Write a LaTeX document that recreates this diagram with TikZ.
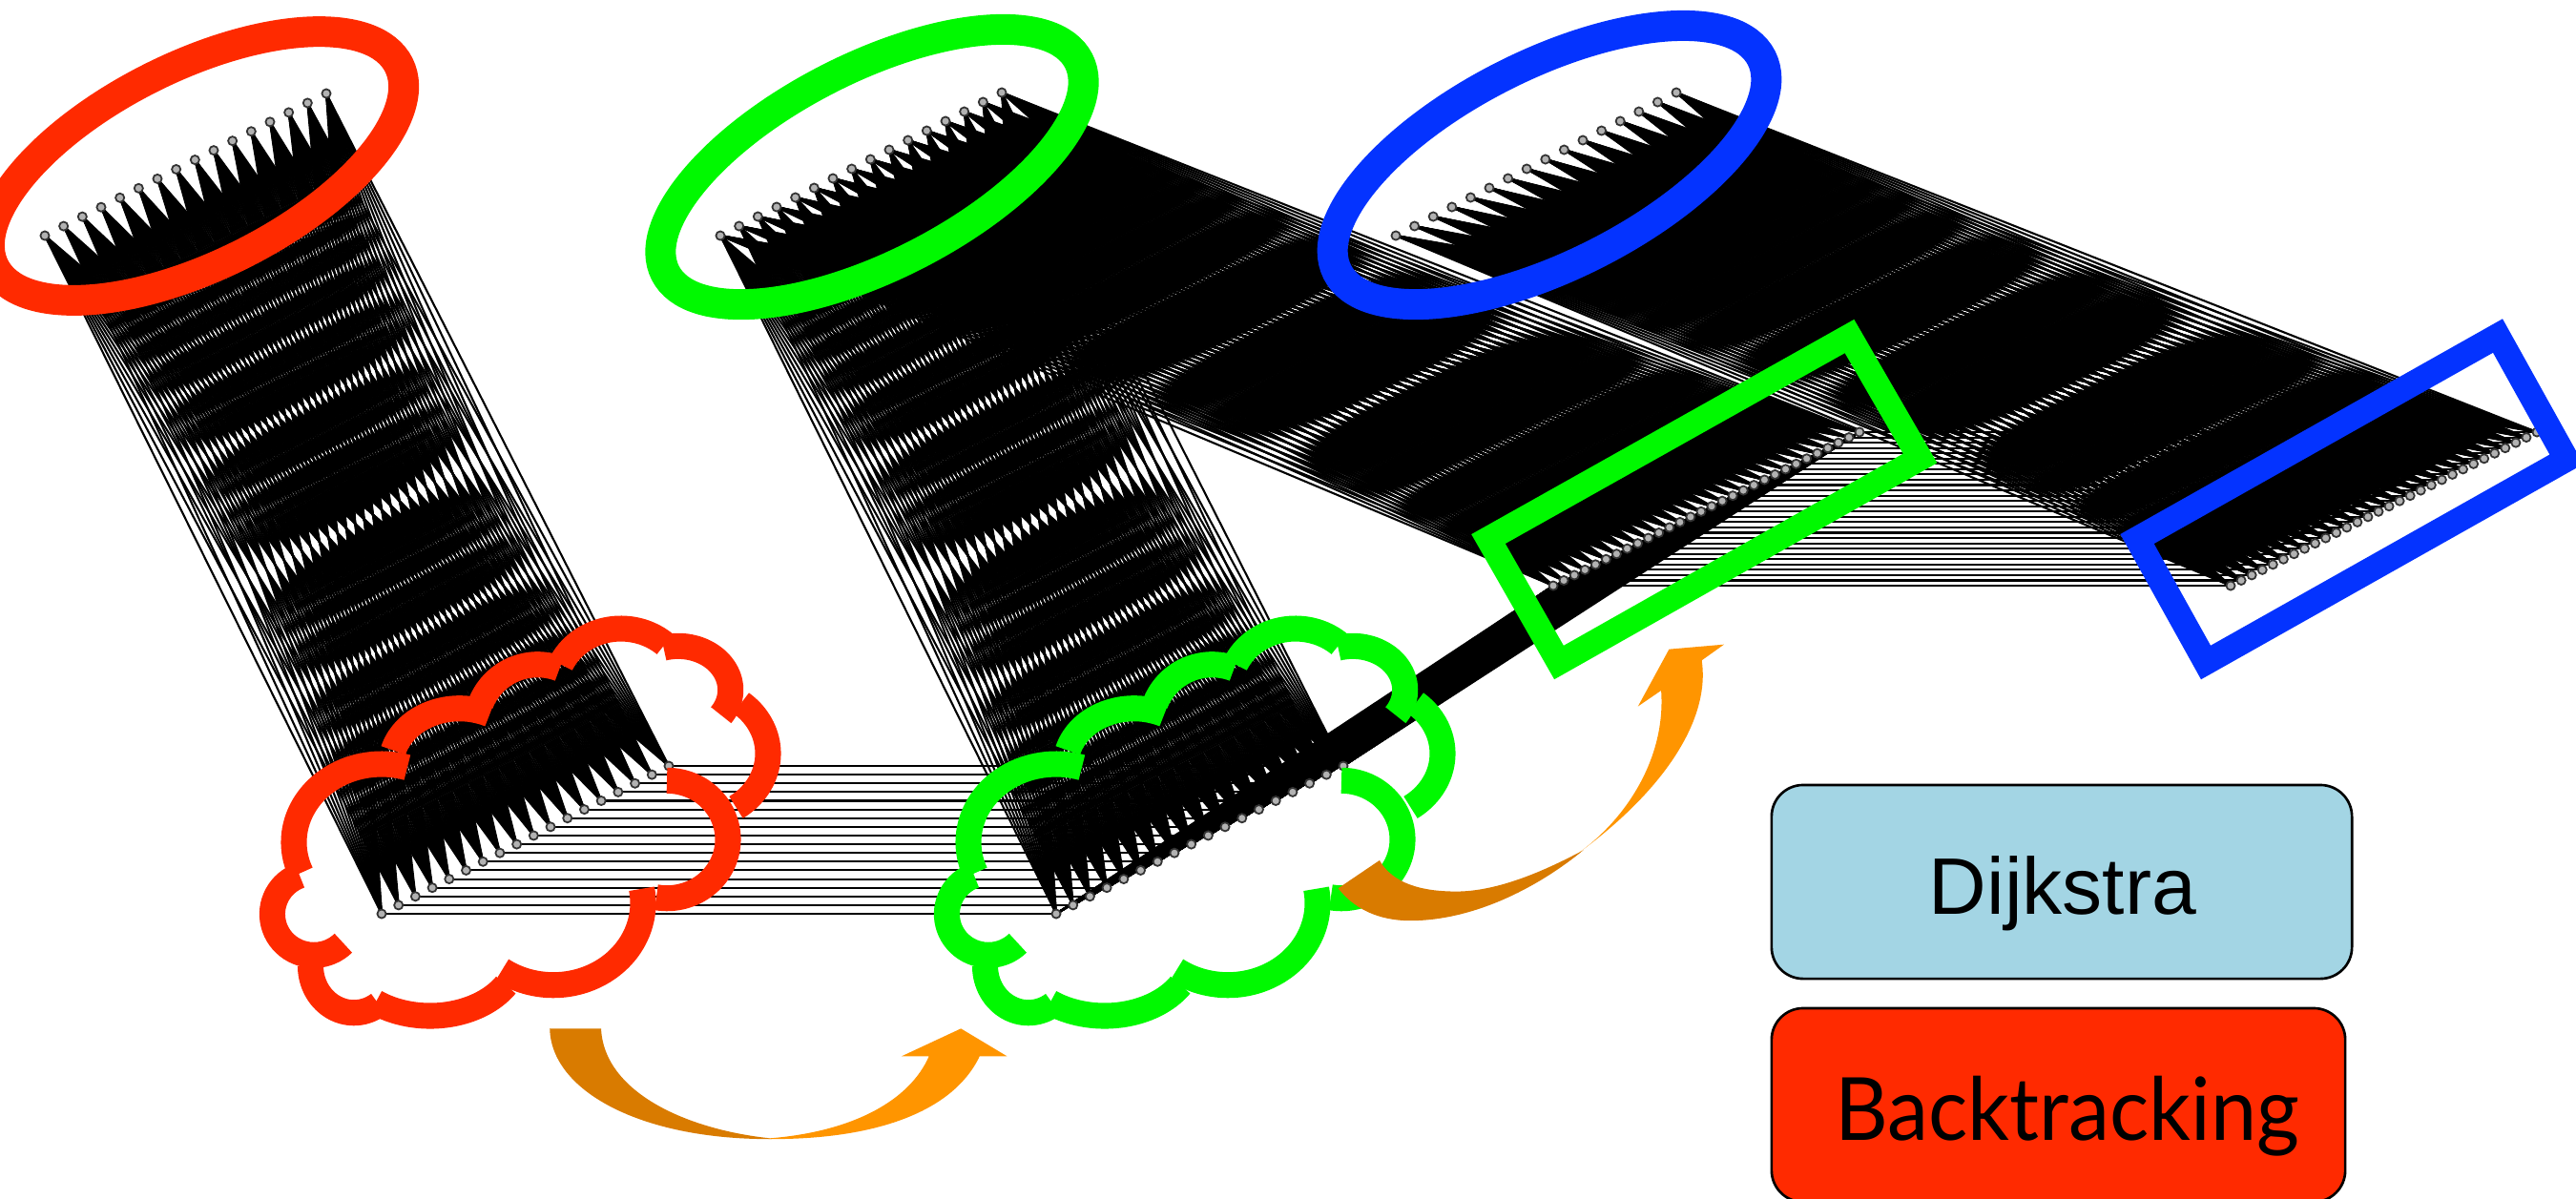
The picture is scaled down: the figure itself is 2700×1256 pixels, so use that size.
\documentclass[tikz,border=0pt]{standalone}
\usepackage{fontspec}
\setmainfont{Liberation Sans}
\newfontfamily\gillfont[FakeStretch=0.945]{Lato}
\definecolor{cred}{HTML}{FF2A00}
\definecolor{cgreen}{HTML}{00F900}
\definecolor{cblue}{HTML}{0433FF}
\definecolor{orangelight}{HTML}{FF9500}
\definecolor{orangedark}{HTML}{D97B00}
\definecolor{boxblue}{HTML}{A3D5E4}
\pgfdeclarelayer{edges}
\pgfsetlayers{edges,main}
\tikzset{
  dot/.style={circle,draw=black!80,fill=black!30,line width=0.5pt,inner sep=0pt,minimum size=2.6pt},
  edge/.style={line width=0.6pt,black},
  lobe/.style={line width=7.7pt,line cap=butt},
  frame/.style={line width=7.4pt,miter limit=10},
  legend/.style={rounded corners=9.4pt,draw=black,line width=0.75pt},
}
\newcommand{\noderow}[6]{%
  \foreach \i in {1,...,#2}{%
    \pgfmathsetmacro\tt{(\i-1)/(#2-1)}%
    \node[dot] (#1\i) at ({#3+\tt*(#5-#3)},{#4+\tt*(#6-#4)}) {};%
  }}
\newcommand{\fullconnect}[4]{%
  \foreach \i in {1,...,#2}{\foreach \j in {1,...,#4}{\draw[edge] (#1\i.center) -- (#3\j.center);}}}
\newcommand{\parallelconnect}[3]{%
  \foreach \i in {1,...,#3}{\draw[edge] (#1\i.center) -- (#2\i.center);}}
\newcommand{\lobearc}[6]{%
  \draw[lobe] plot[domain=#5:#6,samples=40,smooth] ({#1+#3*cos(\x)},{#2+#4*sin(\x)});}
\newcommand{\cloudshape}[2]{%
 \begin{scope}[shift={(#1,0)},#2]
  \lobearc{400}{883}{92}{82}{157}{287}
  \lobearc{481.7}{802.7}{72}{60}{195.5}{296}
  \lobearc{563.5}{760.7}{64}{64}{201}{291}
  \lobearc{650.8}{722.3}{69}{63.3}{204}{312}
  \lobearc{710.7}{723.3}{55}{46}{254}{395}
  \lobearc{729}{790}{76}{68}{-51}{56}
  \lobearc{699}{880}{64}{61.7}{-90}{100}
  \lobearc{580}{946.7}{94}{86}{-10}{125}
  \lobearc{450.8}{998.3}{92.7}{66.7}{31}{128}
  \lobearc{370.9}{1012.7}{45.4}{49}{55}{180}
  \lobearc{329}{958.3}{43.6}{43}{250}{45}
 \end{scope}}
\begin{document}
\begin{tikzpicture}[x=0.01cm,y=-0.01cm]
\useasboundingbox (0,0) rectangle (2700,1256);
% node rows
\noderow{rt}{16}{47}{247}{342}{98}
\noderow{rb}{18}{400}{958}{701}{803}
\noderow{gt}{16}{755}{247}{1050}{97}
\noderow{gb}{18}{1107}{958}{1408}{803}
\noderow{gr}{30}{1628}{614}{1949}{453}
\noderow{bt}{16}{1463}{247}{1757}{97}
\noderow{bb}{30}{2338}{614}{2659}{453}
% connectors
\begin{pgfonlayer}{edges}
\fullconnect{rt}{16}{rb}{18}
\fullconnect{gt}{16}{gb}{18}
\fullconnect{gt}{16}{gr}{30}
\fullconnect{gb}{18}{gr}{30}
\fullconnect{bt}{16}{bb}{30}
\parallelconnect{rb}{gb}{18}
\parallelconnect{gr}{bb}{30}
\end{pgfonlayer}
% ellipses
\draw[cred,line width=9.1pt,rotate around={26.5:(206,174)}] (206,174) ellipse [x radius=237,y radius=104];
\draw[cgreen,line width=9.1pt,rotate around={27.2:(914,175)}] (914,175) ellipse [x radius=243.5,y radius=103];
\draw[cblue,line width=9.1pt,rotate around={26.75:(1624,173)}] (1624,173) ellipse [x radius=249,y radius=105];
% frames
\draw[frame,cgreen] (1938.5,352.5) -- (2012.5,480.5) -- (1634,694.5) -- (1560,565) -- cycle;
\draw[frame,cblue] (2618,352) -- (2690,481.5) -- (2312,694.5) -- (2240,565) -- cycle;
% clouds
\cloudshape{0}{cred}
\cloudshape{707}{cgreen}
% arrow 1
\begin{scope}[shift={(550,1060)},x=0.003444cm,y=-0.003333cm]
\fill[orangedark] (76,55) .. controls (80,250) and (350,405) .. (750,403) -- (740,400) .. controls (480,370) and (240,250) .. (232,55) -- cycle;
\fill[orangelight] (740,401) .. controls (1000,380) and (1170,280) .. (1228,142) -- (1145,142) -- (1325,55) -- (1465,142) -- (1382,142) .. controls (1300,320) and (1060,405) .. (740,403) -- cycle;
\end{scope}
% arrow 2
\begin{scope}[shift={(1380,660)},x=0.003333cm,y=-0.003333cm]
\fill[orangedark] (68,815) .. controls (130,895) and (220,918) .. (300,917) .. controls (500,915) and (700,810) .. (840,695) .. controls (700,770) and (560,825) .. (440,825) .. controls (330,825) and (240,800) .. (198,727) -- cycle;
\fill[orangelight] (830,700) .. controls (980,590) and (1100,400) .. (1085,192) -- (1012,242) -- (1110,62) -- (1283,47) -- (1213,97) .. controls (1240,280) and (1100,500) .. (830,700) -- cycle;
\end{scope}
% legend
\node[legend,fill=boxblue,minimum width=608*0.2845pt,minimum height=203*0.2845pt,inner sep=0pt] (dbox) at (2161,924.5) {};
\node[legend,fill=cred,minimum width=601*0.2845pt,minimum height=203*0.2845pt,inner sep=0pt] (bbox) at (2157.5,1158.5) {};
\node[anchor=base,inner sep=0pt,font=\fontsize{23.9pt}{28pt}\selectfont] (dlabel) at (2162,958) {Dijkstra};
\node[anchor=base,inner sep=0pt,font=\gillfont\fontsize{26pt}{30pt}\selectfont] (blabel) at (2167,1195) {Backtracking};
\end{tikzpicture}
\end{document}
